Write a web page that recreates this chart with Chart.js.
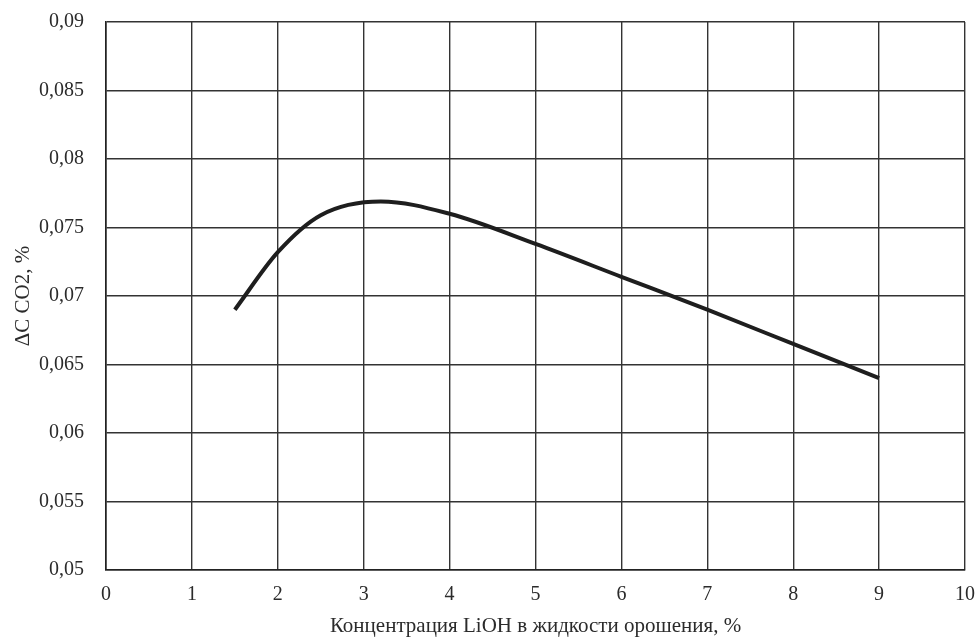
<!DOCTYPE html>
<html lang="ru">
<head>
  <meta charset="UTF-8" />
  <title>ΔC CO2 от концентрации LiOH</title>
  <script src="https://cdn.jsdelivr.net/npm/chart.js"></script>
  <style>
    html, body { margin: 0; padding: 0; background: #fff; }
    #wrap { width: 978px; height: 639px; }
  </style>
</head>
<body>
  <div id="wrap"><canvas id="chart" width="978" height="639"></canvas></div>

  <script>
    // концентрация LiOH, %
    const concLiOH = [1.5, 2, 2.5, 3.2, 4, 5, 6, 7, 8, 9];
    // ΔC CO2, %
    const deltaCO2 = [0.0690, 0.0732, 0.0759, 0.0769, 0.0760, 0.0738, 0.0714, 0.0690, 0.0665, 0.0640];

    const xTickLabels = ['0', '1', '2', '3', '4', '5', '6', '7', '8', '9', '10'];
    const yTickLabels = ['0,05', '0,055', '0,06', '0,065', '0,07', '0,075', '0,08', '0,085', '0,09'];

    const points = concLiOH.map((x, i) => ({ x: x, y: deltaCO2[i] }));
    const serif = "'Liberation Serif', 'DejaVu Serif', serif";
    const ink = '#2b2b2b';

    new Chart(document.getElementById('chart'), {
      type: 'line',
      data: {
        datasets: [{
          data: points,
          borderColor: '#1e1e1e',
          borderWidth: 4,
          pointRadius: 0,
          cubicInterpolationMode: 'monotone',
          fill: false
        }]
      },
      options: {
        responsive: false,
        animation: false,
        layout: { padding: { top: 22, right: 13, left: 0, bottom: 0 } },
        plugins: { legend: { display: false }, tooltip: { enabled: false } },
        scales: {
          x: {
            type: 'linear',
            min: 0, max: 10,
            ticks: {
              stepSize: 1,
              padding: 13,
              color: ink,
              font: { family: serif, size: 20 },
              callback: (v, i) => xTickLabels[i]
            },
            grid: { color: '#333', lineWidth: 1.4, drawTicks: false },
            border: { color: '#222', width: 1.6 },
            title: {
              display: true,
              text: 'Концентрация LiOH в жидкости орошения, %',
              color: ink,
              font: { family: serif, size: 21 },
              padding: { top: 1, bottom: 0 }
            },
            afterFit: s => { s.height = 69; s.paddingLeft = 0; s.paddingRight = 0; }
          },
          y: {
            min: 0.05, max: 0.09,
            ticks: {
              stepSize: 0.005,
              padding: 22,
              color: ink,
              font: { family: serif, size: 20 },
              callback: (v, i) => yTickLabels[i]
            },
            grid: { color: '#333', lineWidth: 1.4, drawTicks: false },
            border: { color: '#222', width: 1.6 },
            title: {
              display: true,
              text: 'ΔC CO2, %',
              color: ink,
              font: { family: serif, size: 21 },
              padding: { top: 11, bottom: 0 }
            },
            afterFit: s => { s.width = 106; s.paddingTop = 0; s.paddingBottom = 0; }
          }
        }
      }
    });
  </script>
</body>
</html>
